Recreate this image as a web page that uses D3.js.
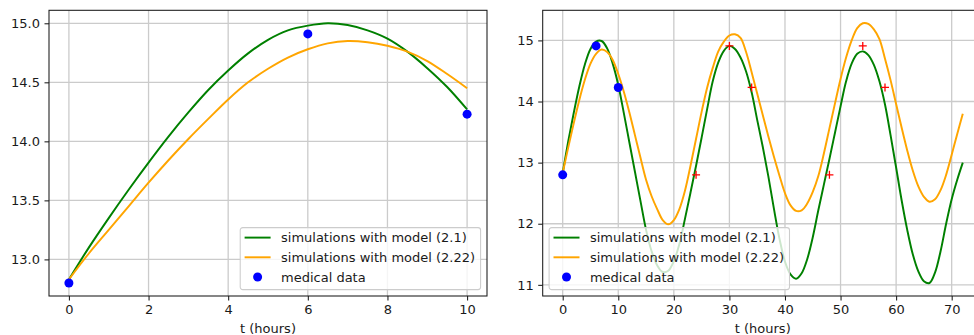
<!DOCTYPE html>
<html>
<head>
<meta charset="utf-8">
<script src="https://cdn.jsdelivr.net/npm/d3@7"></script>
<style>
  body { margin: 0; background: #fff; }
  svg { display: block; font-family: "DejaVu Sans", sans-serif; }
</style>
</head>
<body>
<div id="chart"></div>
<script>
// ---- data ----
const leftTimes = [0, 0.5, 1, 1.5, 2, 2.5, 3, 3.5, 4, 4.5, 5, 5.5, 6, 6.5, 7, 7.5, 8, 8.5, 9, 9.5, 10];
const leftModel21 = [12.83, 13.10, 13.35, 13.59, 13.82, 14.04, 14.245, 14.435, 14.60, 14.745, 14.86,
  14.94, 14.98, 15.00, 14.985, 14.94, 14.87, 14.76, 14.62, 14.46, 14.27];
const leftModel222 = [12.83, 13.05, 13.25, 13.45, 13.65, 13.84, 14.02, 14.19, 14.355, 14.50, 14.615,
  14.71, 14.78, 14.83, 14.85, 14.84, 14.81, 14.76, 14.68, 14.57, 14.45];

const rightTimes = d3.range(0, 73);
const rightModel21 = [
  12.83, 13.35, 13.82, 14.25, 14.61, 14.86, 14.98, 14.99, 14.87, 14.62,
  14.27, 13.81, 13.33, 12.85, 12.37, 11.90, 11.55, 11.32, 11.21, 11.23,
  11.39, 11.67, 12.08, 12.51, 12.95, 13.41, 13.88, 14.33, 14.64, 14.83,
  14.91, 14.86, 14.72, 14.49, 14.15, 13.70, 13.26, 12.78, 12.25, 11.76,
  11.38, 11.17, 11.10, 11.19, 11.42, 11.78, 12.22, 12.64, 13.06, 13.49,
  13.92, 14.33, 14.62, 14.78, 14.82, 14.76, 14.60, 14.33, 13.95, 13.45,
  12.92, 12.38, 11.90, 11.50, 11.22, 11.06, 11.03, 11.20, 11.55, 12.00,
  12.40, 12.72, 13.00];
const rightModel222 = [
  12.83, 13.25, 13.65, 14.03, 14.36, 14.62, 14.78, 14.85, 14.81, 14.68,
  14.45, 14.16, 13.82, 13.45, 13.08, 12.72, 12.45, 12.24, 12.06, 11.99,
  12.06, 12.24, 12.54, 12.95, 13.39, 13.83, 14.23, 14.55, 14.82, 14.98,
  15.08, 15.10, 15.04, 14.81, 14.48, 14.13, 13.78, 13.43, 13.10, 12.79,
  12.50, 12.30, 12.21, 12.22, 12.33, 12.52, 12.78, 13.15, 13.56, 13.97,
  14.37, 14.72, 15.00, 15.20, 15.28, 15.27, 15.18, 15.02, 14.70, 14.35,
  13.96, 13.57, 13.20, 12.87, 12.61, 12.44, 12.36, 12.40, 12.55, 12.80,
  13.13, 13.47, 13.80];

const medicalTimes = [0, 6, 10];
const medicalValues = [12.8, 14.91, 14.23];
const repeatTimes = [24, 30, 34, 48, 54, 58];
const repeatValues = [12.8, 14.91, 14.23, 12.8, 14.91, 14.23];

const leftXTicks = [0, 2, 4, 6, 8, 10];
const leftYTicks = [13.0, 13.5, 14.0, 14.5, 15.0];
const rightXTicks = [0, 10, 20, 30, 40, 50, 60, 70];
const rightYTicks = [11, 12, 13, 14, 15];

const legendLabels = ['simulations with model (2.1)', 'simulations with model (2.22)', 'medical data'];
const xLabel = 't (hours)';

// ---- style ----
const width = 974;
const height = 335;
const fontSize = 13;
const textColor = '#1a1a1a';
const gridColor = '#cbcbcb';
const greenColor = '#008000';
const orangeColor = '#ffa500';
const blueColor = '#0000ff';
const redColor = '#ff0000';
const lineWidth = 1.95;
const tickLen = 4.5;
const tickPad = 4.5;
const dotRadius = 4.5;

// matplotlib style 5% margins
function padded(values) {
  const [lo, hi] = d3.extent(values);
  const m = (hi - lo) * 0.05;
  return [lo - m, hi + m];
}

const svg = d3.select('#chart')
  .append('svg')
  .attr('width', width)
  .attr('height', height);

svg.append('rect').attr('width', width).attr('height', height).attr('fill', '#fff');

function drawPanel(cfg) {
  const {id, left, right, top, bottom, series, xTicks, yTicks, yFormat, legendSide} = cfg;

  const allX = series.flatMap(s => s.times);
  const allY = series.flatMap(s => s.values);

  const x = d3.scaleLinear().domain(padded(allX)).range([left, right]);
  const y = d3.scaleLinear().domain(padded(allY)).range([bottom, top]);

  const g = svg.append('g').attr('class', 'panel-' + id);

  g.append('clipPath').attr('id', 'clip-' + id)
    .append('rect')
    .attr('x', left).attr('y', top)
    .attr('width', right - left).attr('height', bottom - top);

  // grid
  const grid = g.append('g');
  grid.selectAll('.gx').data(xTicks).join('line')
    .attr('x1', d => x(d)).attr('x2', d => x(d))
    .attr('y1', top).attr('y2', bottom)
    .attr('stroke', gridColor).attr('stroke-width', 1.3);
  grid.selectAll('.gy').data(yTicks).join('line')
    .attr('x1', left).attr('x2', right)
    .attr('y1', d => y(d)).attr('y2', d => y(d))
    .attr('stroke', gridColor).attr('stroke-width', 1.3);

  const plot = g.append('g').attr('clip-path', `url(#clip-${id})`);

  series.forEach(s => {
    const pts = s.times.map((t, i) => [t, s.values[i]]);
    if (s.kind === 'line') {
      plot.append('path')
        .datum(pts)
        .attr('fill', 'none')
        .attr('stroke', s.color)
        .attr('stroke-width', lineWidth)
        .attr('d', d3.line().x(d => x(d[0])).y(d => y(d[1])).curve(d3.curveCatmullRom.alpha(0.5)));
    } else if (s.kind === 'dot') {
      plot.selectAll(null).data(pts).join('circle')
        .attr('cx', d => x(d[0])).attr('cy', d => y(d[1]))
        .attr('r', dotRadius).attr('fill', s.color);
    } else if (s.kind === 'cross') {
      plot.selectAll(null).data(pts).join('path')
        .attr('d', d => {
          const px = x(d[0]), py = y(d[1]);
          return `M${px - 4},${py}H${px + 4}M${px},${py - 4}V${py + 4}`;
        })
        .attr('stroke', s.color).attr('stroke-width', 1.3).attr('fill', 'none');
    }
  });

  // axes
  const xAxisG = g.append('g')
    .attr('transform', `translate(0,${bottom})`)
    .call(d3.axisBottom(x).tickValues(xTicks).tickSize(tickLen).tickPadding(tickPad).tickFormat(d3.format('d')));
  const yAxisG = g.append('g')
    .attr('transform', `translate(${left},0)`)
    .call(d3.axisLeft(y).tickValues(yTicks).tickSize(tickLen).tickPadding(tickPad).tickFormat(d3.format(yFormat)));

  [xAxisG, yAxisG].forEach(a => {
    a.select('.domain').remove();
    a.attr('font-size', fontSize).attr('font-family', '"DejaVu Sans", sans-serif');
    a.selectAll('line').attr('stroke', textColor).attr('stroke-width', 1.05);
    a.selectAll('text').attr('fill', textColor);
  });

  // frame
  g.append('rect')
    .attr('x', left).attr('y', top)
    .attr('width', right - left).attr('height', bottom - top)
    .attr('fill', 'none').attr('stroke', textColor).attr('stroke-width', 1.05);

  g.append('text')
    .attr('x', (left + right) / 2)
    .attr('y', 333)
    .attr('text-anchor', 'middle')
    .attr('font-size', fontSize)
    .attr('fill', textColor)
    .text(xLabel);

  // legend
  const leg = g.append('g');
  const handles = [
    {kind: 'line', color: greenColor},
    {kind: 'line', color: orangeColor},
    {kind: 'dot', color: blueColor}
  ];
  const rowY = [10, 29.7, 49.4];
  const texts = leg.selectAll('text').data(legendLabels).join('text')
    .attr('font-size', fontSize)
    .attr('fill', textColor)
    .attr('y', (d, i) => rowY[i])
    .attr('dy', '0.35em')
    .text(d => d);
  const textW = d3.max(texts.nodes(), n => n.getComputedTextLength());
  const boxW = 4.4 + 26 + 10.4 + textW + 5.5;
  const boxH = 62;
  const offset = 6.4;
  const bx = legendSide === 'right' ? right - offset - boxW : left + offset;
  const by = bottom - offset - boxH;
  leg.attr('transform', `translate(${bx},${by})`);
  leg.insert('rect', 'text')
    .attr('width', boxW).attr('height', boxH)
    .attr('rx', 2.6).attr('ry', 2.6)
    .attr('fill', '#fff').attr('fill-opacity', 0.8)
    .attr('stroke', '#cccccc').attr('stroke-width', 1.05);
  texts.attr('x', 4.4 + 26 + 10.4);
  handles.forEach((h, i) => {
    if (h.kind === 'line') {
      leg.append('line')
        .attr('x1', 4.4).attr('x2', 4.4 + 26)
        .attr('y1', rowY[i]).attr('y2', rowY[i])
        .attr('stroke', h.color).attr('stroke-width', lineWidth);
    } else {
      leg.append('circle')
        .attr('cx', 4.4 + 13).attr('cy', rowY[i])
        .attr('r', dotRadius).attr('fill', h.color);
    }
  });
}

drawPanel({
  id: 'left',
  left: 49, right: 487, top: 10.3, bottom: 296,
  series: [
    {kind: 'line', times: leftTimes, values: leftModel21, color: greenColor},
    {kind: 'line', times: leftTimes, values: leftModel222, color: orangeColor},
    {kind: 'dot', times: medicalTimes, values: medicalValues, color: blueColor}
  ],
  xTicks: leftXTicks, yTicks: leftYTicks, yFormat: '.1f', legendSide: 'right'
});

drawPanel({
  id: 'right',
  left: 542.7, right: 982.8, top: 10.3, bottom: 296,
  series: [
    {kind: 'line', times: rightTimes, values: rightModel21, color: greenColor},
    {kind: 'line', times: rightTimes, values: rightModel222, color: orangeColor},
    {kind: 'dot', times: medicalTimes, values: medicalValues, color: blueColor},
    {kind: 'cross', times: repeatTimes, values: repeatValues, color: redColor}
  ],
  xTicks: rightXTicks, yTicks: rightYTicks, yFormat: 'd', legendSide: 'left'
});
</script>
</body>
</html>
